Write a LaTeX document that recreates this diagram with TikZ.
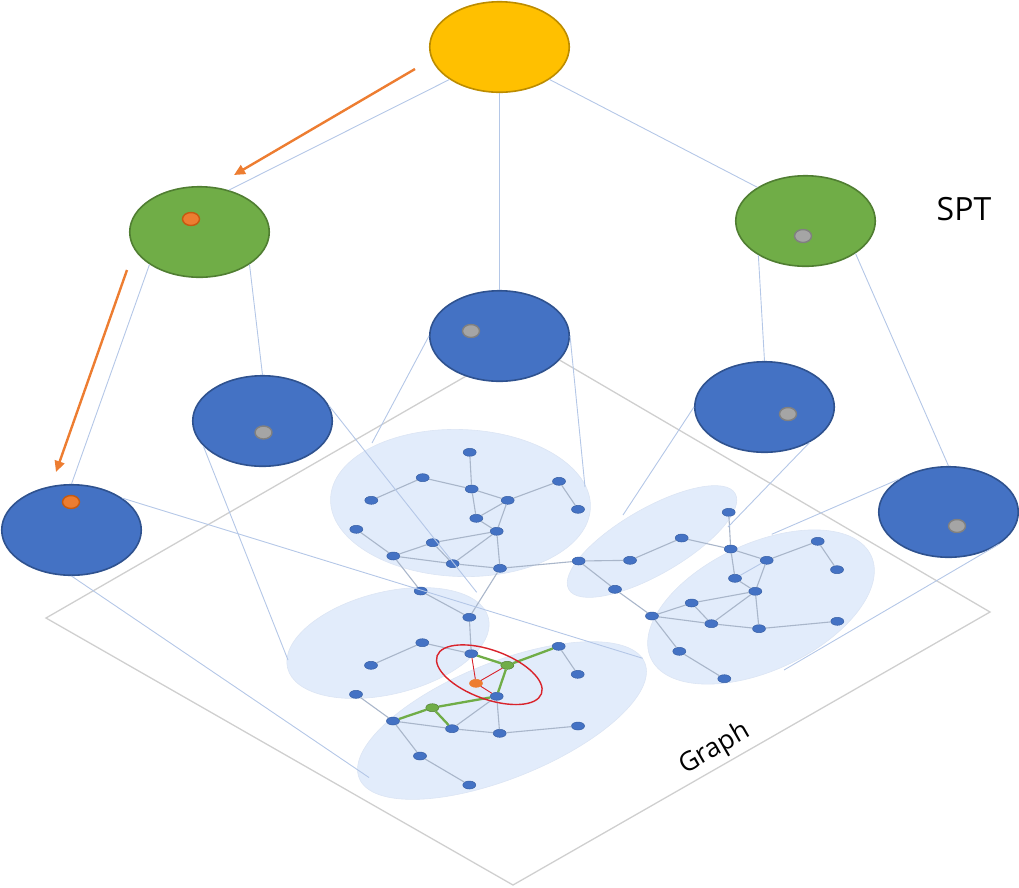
\documentclass[tikz,border=0pt]{standalone}
\usepackage{fontspec}
\setmainfont{Open Sans}
\usetikzlibrary{shapes.geometric,arrows.meta}
\definecolor{blobc}{HTML}{E2ECFB}
\definecolor{linkc}{HTML}{B4C7E7}
\definecolor{planec}{HTML}{CFCFCF}
\definecolor{edgec}{HTML}{A9B6CA}
\definecolor{bluec}{HTML}{4472C4}
\definecolor{blued}{HTML}{2F528F}
\definecolor{greenc}{HTML}{70AD47}
\definecolor{greend}{HTML}{507E32}
\definecolor{orangec}{HTML}{ED7D31}
\definecolor{oranged}{HTML}{C55A11}
\definecolor{yellowc}{HTML}{FFC000}
\definecolor{yellowd}{HTML}{BC8C00}
\definecolor{grayc}{HTML}{A5A5A5}
\definecolor{redc}{HTML}{D9232B}
\tikzset{
  treeblue/.style={ellipse,draw=blued,fill=bluec,line width=1.6pt,minimum width=139.5pt,minimum height=90.5pt,inner sep=0pt},
  treegreen/.style={treeblue,draw=greend,fill=greenc},
  treeyellow/.style={treeblue,draw=yellowd,fill=yellowc},
  dotgray/.style={ellipse,draw=black!50,fill=grayc,line width=1.4pt,minimum width=17pt,minimum height=13pt,inner sep=0pt},
  dotorange/.style={dotgray,draw=oranged,fill=orangec},
  gn/.style={ellipse,draw=blued!60!bluec,fill=bluec,line width=.5pt,minimum width=13pt,minimum height=8pt,inner sep=0pt},
  gngreen/.style={gn,draw=greend,fill=greenc},
  gnorange/.style={gn,draw=orangec,fill=orangec},
  blob/.style={ellipse,fill=blobc,draw=blobc!94!gray,line width=.6pt,inner sep=0pt},
  linkline/.style={draw=linkc,line width=.9pt},
  edgeline/.style={draw=edgec,line width=1.1pt},
  greenline/.style={draw=greenc,line width=2.3pt},
  redline/.style={draw=redc,line width=.9pt},
  planeline/.style={draw=planec,line width=1.3pt},
  arrowline/.style={draw=orangec,line width=2.4pt,-{Triangle[length=11pt,width=10pt]}},
  lab/.style={inner sep=0pt,text=black}
}
\begin{document}
\begin{tikzpicture}[x=1pt,y=-1pt]
\useasboundingbox (0,0) rectangle (1019,887);
% plane
\coordinate (pa) at (527,341);
\coordinate (pb) at (990,612);
\coordinate (pc) at (513,885);
\coordinate (pd) at (46,618);
\draw[planeline] (pa) -- (pb) -- (pc) -- (pd) -- cycle;
% blobs
\node[blob,minimum width=260pt,minimum height=147pt,rotate=-2] (b1) at (460.5,503) {};
\node[blob,minimum width=207pt,minimum height=102pt,rotate=14] (b2) at (388,643) {};
\node[blob,minimum width=308pt,minimum height=116pt,rotate=22] (b3) at (502,720.5) {};
\node[blob,minimum width=192pt,minimum height=66pt,rotate=30] (b4) at (652,541.5) {};
\node[blob,minimum width=243pt,minimum height=127pt,rotate=25] (b5) at (761,607) {};
% graph nodes
\foreach \n/\x/\y in {
 a1/469.7/452.3,a2/422.7/477.7,a3/471.7/489,a4/507.7/500.3,a5/559/481.3,a6/578/509.3,
 a7/371.3/500.3,a8/476.3/518.3,a9/496.7/531.3,a10/356.3/529.3,a11/432.7/542.7,a12/393.3/556,
 a13/452.7/563.7,a14/500/568.3,a15/420.7/591,a16/469.3/617.3,
 c2/422.3/642.7,c3/471.3/653.7,c5/558.7/646.3,c6/577.7/674.3,c7/371/665.3,c9/496.7/696.3,
 c10/356/694.3,c12/393/721,c13/452/728.7,c14/499.7/733.3,c17/578/726,c18/420/756,c19/469.3/785,
 d1/578.7/561,d2/630/560.3,d3/681.7/538,d4/730.7/549,d5/728.7/512.3,d6/766.7/560.3,d7/817.7/541.3,
 d8/837/569.7,d9/735/578.3,d10/755.3/591.3,d11/691.7/603,d12/615/589.3,d13/652/616,d14/711.3/623.7,
 d15/759/628.7,d16/837.3/621.3,d17/679.3/651.3,d18/724.3/678.7}
  {\node[gn] (\n) at (\x,\y) {};}
\node[gngreen] (c4) at (507.3,665.3) {};
\node[gngreen] (c11) at (432.3,707.7) {};
\node[gnorange] (c8) at (476,683.3) {};
% graph edges
\foreach \p/\q in {a1/a3,a2/a3,a2/a7,a3/a4,a3/a8,a4/a5,a5/a6,a4/a8,a4/a9,a8/a9,a9/a11,a9/a13,a9/a14,
 a11/a12,a11/a13,a10/a12,a12/a13,a13/a14,a12/a15,a15/a16,a14/a16,a14/d1,a16/c3,
 c2/c3,c2/c7,c5/c6,c9/c13,c9/c14,c10/c12,c12/c13,c13/c14,c14/c17,c12/c18,c18/c19,
 d1/d2,d2/d3,d3/d4,d4/d5,d4/d6,d6/d7,d7/d8,d4/d9,d6/d10,d9/d10,d10/d11,d10/d14,d10/d15,
 d11/d13,d11/d14,d13/d14,d14/d15,d15/d16,d1/d12,d12/d13,d13/d17,d17/d18}
  {\draw[edgeline] (\p) -- (\q);}
\draw[linkline] (d6) -- (d9);
\foreach \p/\q in {c3/c4,c4/c5,c4/c9,c9/c11,c11/c12,c11/c13}
  {\draw[greenline] (\p) -- (\q);}
\foreach \p/\q in {c3/c8,c4/c8,c8/c9}
  {\draw[redline] (\p) -- (\q);}
\node[ellipse,draw=redc,line width=1.4pt,minimum width=111pt,minimum height=49pt,inner sep=0pt,rotate=-20] (ring) at (489.3,674.7) {};
% tree nodes
\node[treeyellow] (root) at (499.5,47) {};
\node[treegreen] (gl) at (199.5,232) {};
\node[treegreen] (gr) at (805.5,221) {};
\node[treeblue] (mid) at (499.5,336) {};
\node[treeblue] (nl) at (262.5,421) {};
\node[treeblue] (nr) at (764.5,407) {};
\node[treeblue] (fl) at (71.5,530) {};
\node[treeblue] (fr) at (948.5,512) {};
\node[dotorange] (dgl) at (191,219) {};
\node[dotgray] (dgr) at (803,236) {};
\node[dotgray] (dmid) at (471,331) {};
\node[dotgray] (dnl) at (263.5,432.5) {};
\node[dotgray] (dnr) at (788,414) {};
\node[dotorange] (dfl) at (71,502) {};
\node[dotgray] (dfr) at (957,526) {};
% tree links
\draw[linkline] (root.213) -- (gl.55);
\draw[linkline] (root.south) -- (mid.north);
\draw[linkline] (root.327) -- (gr.145);
\draw[linkline] (gl.327) -- (nl.north);
\draw[linkline] (gl.213) -- (fl.north);
\draw[linkline] (gr.216) -- (nr.north);
\draw[linkline] (gr.327) -- (fr.north);
% links to clusters
\coordinate (e1) at (372,443);
\coordinate (e2) at (585,487);
\coordinate (e3) at (288,660);
\coordinate (e4) at (476.7,592.3);
\coordinate (e5) at (642.7,658.3);
\coordinate (e6) at (369,777.5);
\coordinate (e7) at (623,515);
\coordinate (e8) at (728,527);
\coordinate (e9) at (771.7,534.3);
\coordinate (e10) at (784,670);
\draw[linkline] (mid.west) -- (e1);
\draw[linkline] (mid.east) -- (e2);
\draw[linkline] (nl.203) -- (e3);
\draw[linkline] (nl.13) -- (e4);
\draw[linkline] (fl.32) -- (e5);
\draw[linkline] (fl.south) -- (e6);
\draw[linkline] (nr.west) -- (e7);
\draw[linkline] (nr.322) -- (e8);
\draw[linkline] (fr.146) -- (e9);
\draw[linkline] (fr.328) -- (e10);
% arrows
\coordinate (s1) at (415,69);
\coordinate (t1) at (234,175);
\coordinate (s2) at (127,270);
\coordinate (t2) at (56,472);
\draw[arrowline] (s1) -- (t1);
\draw[arrowline] (s2) -- (t2);
% labels
\node[lab,font=\fontsize{32}{38}\selectfont] (spt) at (964,209) {SPT};
\node[lab,font=\fontsize{26.5}{30}\selectfont,rotate=30] (graph) at (715,749) {Graph};
\end{tikzpicture}
\end{document}
